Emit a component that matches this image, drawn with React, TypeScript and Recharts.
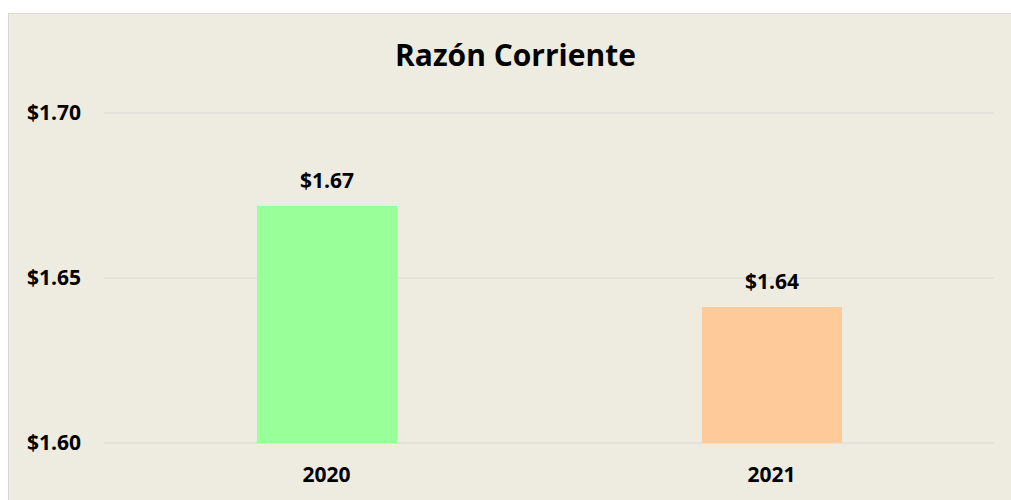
import { BarChart, Bar, XAxis, YAxis, CartesianGrid, Cell, LabelList } from "recharts";

const years = ["2020", "2021"];
const ratios = [1.6718, 1.6412];
const barColors = ["#99FF99", "#FFCA99"];
const yTicks = [1.6, 1.65, 1.7];

const data = years.map((year, i) => ({ year, ratio: ratios[i] }));

const money = (v: number) => `$${Number(v).toFixed(2)}`;
const font = "'Open Sans', sans-serif";

export default function App() {
  return (
    <div
      style={{
        position: "fixed",
        left: 8,
        top: 13,
        width: 1010,
        height: 495,
        boxSizing: "border-box",
        background: "#EEEBE0",
        borderTop: "1px solid #D9D9D9",
        borderLeft: "1px solid #D9D9D9",
        overflow: "hidden",
        fontFamily: font,
      }}
    >
      <div
        style={{
          position: "absolute",
          left: 306.5,
          top: 26.4,
          width: 400,
          textAlign: "center",
          fontSize: 30,
          lineHeight: "30px",
          fontWeight: 700,
          color: "#000",
        }}
      >
        Razón Corriente
      </div>
      <BarChart width={1002} height={486} data={data} margin={{ top: 99, right: 17, bottom: 27, left: 0 }}>
        <CartesianGrid vertical={false} stroke="#D9D9D9" strokeWidth={1} />
        <XAxis
          dataKey="year"
          axisLine={false}
          tickLine={false}
          tickSize={0}
          tickMargin={24}
          height={30}
          tick={{ fontSize: 21, fontWeight: 700, fill: "#000", fontFamily: font }}
        />
        <YAxis
          domain={[1.6, 1.7]}
          ticks={yTicks}
          width={95}
          axisLine={false}
          tickLine={false}
          tickSize={0}
          tickMargin={23}
          tickFormatter={money}
          tick={{ fontSize: 21, fontWeight: 700, fill: "#000", fontFamily: font }}
        />
        <Bar dataKey="ratio" barSize={140} isAnimationActive={false}>
          {data.map((d, i) => (
            <Cell key={d.year} fill={barColors[i]} />
          ))}
          <LabelList
            dataKey="ratio"
            position="top"
            offset={18}
            formatter={(v: any) => money(v)}
            style={{ fontSize: 21, fontWeight: 700, fill: "#000", fontFamily: font }}
          />
        </Bar>
      </BarChart>
    </div>
  );
}
